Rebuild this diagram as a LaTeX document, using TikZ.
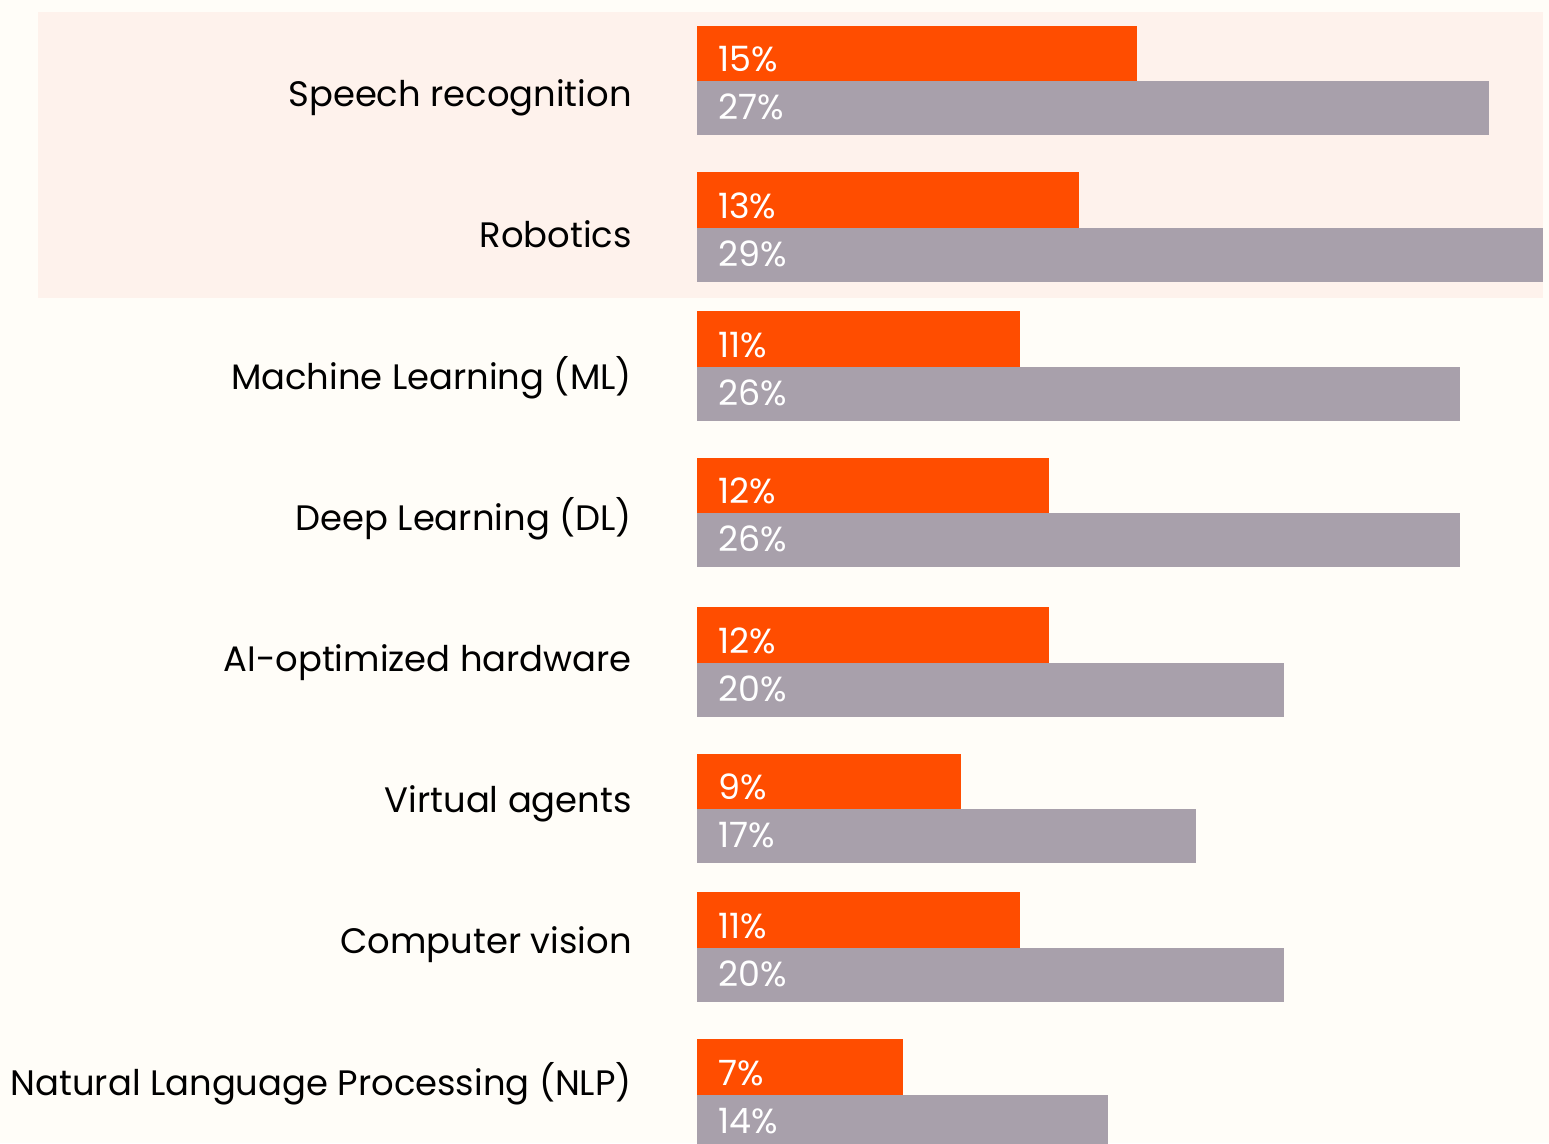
\documentclass[tikz,border=0pt]{standalone}
\usepackage{fontspec}
\setmainfont{Poppins}
\definecolor{bgc}{HTML}{FFFDF8}
\definecolor{hlc}{HTML}{FEF2EC}
\definecolor{orc}{HTML}{FF4D00}
\definecolor{grc}{HTML}{A8A0AB}
\begin{document}
\begin{tikzpicture}[x=1bp,y=-1bp,
  lbl/.style={anchor=base east,inner sep=0pt,text=black,font=\fontsize{35.5}{42}\selectfont},
  pct/.style={anchor=base west,inner sep=0pt,text=white,font=\fontsize{35}{42}\selectfont}]
\useasboundingbox (0,0) rectangle (1549,1143);
\fill[bgc] (0,0) rectangle (1549,1143);
\fill[hlc] (38,12) rectangle (1543,298);
\begin{scope}
\clip (0,0) rectangle (1549,1143);
\foreach \i/\ot/\sp/\gb/\orr/\grr/\lc/\lab/\op/\gp in {
  1/26/81/135/1137/1489/94/Speech recognition/15/27,
  2/172/228/282/1079/1543/235/Robotics/13/29,
  3/311/367/421/1020/1460/377/Machine Learning (ML)/11/26,
  4/458/513/567/1049/1460/518/Deep Learning (DL)/12/26,
  5/607/663/717/1049/1284/659/AI-optimized hardware/12/20,
  6/754/809/863/961/1196/800/Virtual agents/9/17,
  7/892/948/1002/1020/1284/941/Computer vision/11/20,
  8/1039/1095/1149/903/1108/1083/Natural Language Processing (NLP)/7/14}{
  \fill[orc] (697,\ot) rectangle (\orr,\sp);
  \fill[grc] (697,\sp) rectangle (\grr,\gb);
  \node[lbl] (label\i) at (632,\lc+12.5) {\lab};
  \node[pct] (o\i) at (718,\sp-10) {\op\%};
  \node[pct] (g\i) at (718,\gb-16) {\gp\%};
}
\end{scope}
\end{tikzpicture}
\end{document}
